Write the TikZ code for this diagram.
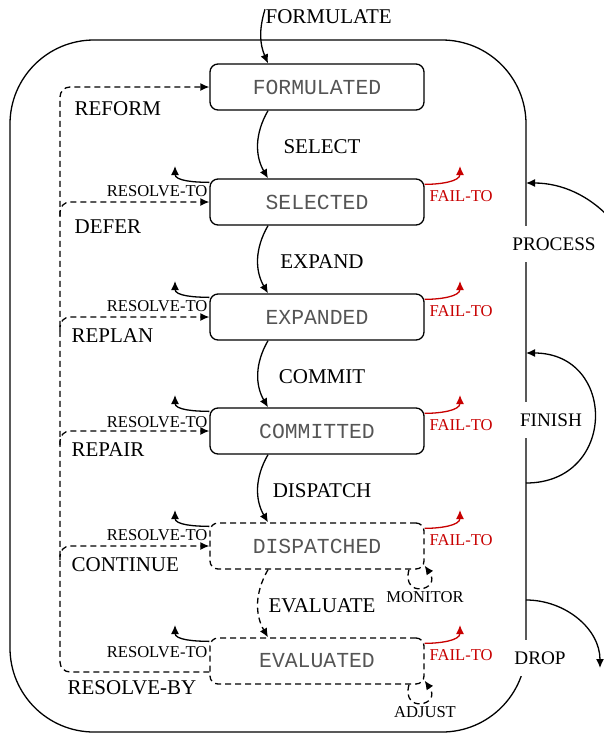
\documentclass[tikz,border=0pt]{standalone}
\usepackage{fontspec}
\setmainfont{Liberation Serif}
\setmonofont{Liberation Mono}
\usetikzlibrary{arrows.meta,calc}
\definecolor{failred}{RGB}{200,0,0}
\definecolor{statetext}{RGB}{85,85,85}
\tikzset{
  state/.style={draw, rounded corners=4pt, minimum width=107pt, minimum height=23pt,
    inner sep=0pt, font=\fontsize{10.7}{12}\selectfont\ttfamily, text=statetext},
  tentative/.style={state, dashy},
  dashy/.style={dash pattern=on 3pt off 2pt},
  event/.style={font=\fontsize{10.5}{12}\selectfont, inner sep=0pt},
  sideevent/.style={font=\fontsize{9.6}{11}\selectfont, fill=white, inner sep=0pt, minimum height=18pt},
  hook/.style={font=\fontsize{8.3}{10}\selectfont, inner sep=0pt},
  fail/.style={failred, text=failred},
}
\begin{document}
\begin{tikzpicture}[x=0.5pt, y=0.5pt, line width=0.65pt, >={Latex[length=4.5pt,width=4pt]}]

\path[use as bounding box, clip] (0,0) rectangle (604,-735);

% Outer frame
\draw[rounded corners=42pt] (10,-40) rectangle (526,-732);

% States
\node[state] (formulated) at (317,-87) {FORMULATED};
\node[state] (selected) at (317,-202) {SELECTED};
\node[state] (expanded) at (317,-317) {EXPANDED};
\node[state] (committed) at (317,-431) {COMMITTED};
\node[tentative] (dispatched) at (317,-546) {DISPATCHED};
\node[tentative] (evaluated) at (317,-661) {EVALUATED};

% Main sequence
\coordinate (lane) at (268,0);
\node[event, anchor=west] (formulate) at (265,-17) {FORMULATE};
\draw[->] (formulate.north west) to[bend right=20] (formulated.north -| lane);
\draw[->] (formulated.south -| lane) to[bend right=30] (selected.north -| lane);
\draw[->] (selected.south -| lane) to[bend right=30] (expanded.north -| lane);
\draw[->] (expanded.south -| lane) to[bend right=30] (committed.north -| lane);
\draw[->] (committed.south -| lane) to[bend right=30] (dispatched.north -| lane);
\draw[->, dashy] (dispatched.south -| lane) to[bend right=30] (evaluated.north -| lane);
\node[event] (select) at (322,-147) {SELECT};
\node[event] (expand) at (322,-262) {EXPAND};
\node[event] (commit) at (322,-377) {COMMIT};
\node[event] (dispatch) at (322,-491) {DISPATCH};
\node[event] (evaluate) at (322,-606) {EVALUATE};

% Resolve-to hooks
\coordinate (selres) at (175,-166);
\coordinate (expres) at (175,-281);
\coordinate (comres) at (175,-395);
\coordinate (disres) at (175,-510);
\coordinate (evares) at (175,-625);
\draw[->] ([yshift=-2pt]selected.north west) to[out=180,in=-90] (selres);
\draw[->] ([yshift=-2pt]expanded.north west) to[out=180,in=-90] (expres);
\draw[->] ([yshift=-2pt]committed.north west) to[out=180,in=-90] (comres);
\draw[->] ([yshift=-2pt]dispatched.north west) to[out=180,in=-90] (disres);
\draw[->] ([yshift=-2pt]evaluated.north west) to[out=180,in=-90] (evares);
\node[hook, anchor=east] (selrestext) at (208,-191) {RESOLVE-TO};
\node[hook, anchor=east] (exprestext) at (208,-306) {RESOLVE-TO};
\node[hook, anchor=east] (comrestext) at (208,-422) {RESOLVE-TO};
\node[hook, anchor=east] (disrestext) at (208,-535) {RESOLVE-TO};
\node[hook, anchor=east] (evarestext) at (208,-652) {RESOLVE-TO};

% Fail-to hooks
\coordinate (selfail) at (460,-166);
\coordinate (expfail) at (460,-281);
\coordinate (comfail) at (460,-395);
\coordinate (disfail) at (460,-510);
\coordinate (evafail) at (460,-625);
\draw[->, fail] ([yshift=-3pt]selected.north east) to[out=0,in=-90] (selfail);
\draw[->, fail] ([yshift=-3pt]expanded.north east) to[out=0,in=-90] (expfail);
\draw[->, fail] ([yshift=-3pt]committed.north east) to[out=0,in=-90] (comfail);
\draw[->, fail] ([yshift=-3pt]dispatched.north east) to[out=0,in=-90] (disfail);
\draw[->, fail] ([yshift=-3pt]evaluated.north east) to[out=0,in=-90] (evafail);
\node[hook, fail, anchor=west] (selfailtext) at (429,-196) {FAIL-TO};
\node[hook, fail, anchor=west] (expfailtext) at (429,-311) {FAIL-TO};
\node[hook, fail, anchor=west] (comfailtext) at (429,-425) {FAIL-TO};
\node[hook, fail, anchor=west] (disfailtext) at (429,-540) {FAIL-TO};
\node[hook, fail, anchor=west] (evafailtext) at (429,-655) {FAIL-TO};

% Resolve-by paths
\coordinate (spine) at (60,0);
\draw[->, dashy, rounded corners=5pt] ([yshift=-5.5pt]evaluated.west)
  -- ($(evaluated.west -| spine)+(0,-11)$) -- (formulated.west -| spine) -- (formulated.west);
\draw[->, dashy, rounded corners=5pt] ($(selected.west -| spine)+(0,-14)$) -- (selected.west -| spine) -- (selected.west);
\draw[->, dashy, rounded corners=5pt] ($(expanded.west -| spine)+(0,-14)$) -- (expanded.west -| spine) -- (expanded.west);
\draw[->, dashy, rounded corners=5pt] ($(committed.west -| spine)+(0,-14)$) -- (committed.west -| spine) -- (committed.west);
\draw[->, dashy, rounded corners=5pt] ($(dispatched.west -| spine)+(0,-14)$) -- (dispatched.west -| spine) -- (dispatched.west);
\node[event, anchor=west] (reform) at (74,-109) {REFORM};
\node[event, anchor=west] (defer) at (74,-227) {DEFER};
\node[event, anchor=west] (replan) at (71,-336) {REPLAN};
\node[event, anchor=west] (repair) at (71,-450) {REPAIR};
\node[event, anchor=west] (continue) at (71,-565) {CONTINUE};
\node[event] (resolveby) at (132,-688) {RESOLVE-BY};

% Monitor and adjust loops
\coordinate (mx) at (409,0);
\draw[->, dashy] (dispatched.south -| mx) to[out=-105,in=-55,looseness=4.8] ([yshift=2pt]dispatched.south east);
\draw[->, dashy] (evaluated.south -| mx) to[out=-105,in=-55,looseness=4.8] ([yshift=2pt]evaluated.south east);
\node[hook] (monitor) at (425,-597) {MONITOR};
\node[hook] (adjust) at (425,-712) {ADJUST};

% Right side transitions
\coordinate (procsrc) at (642,-300);
\coordinate (procin) at (526,-183);
\coordinate (finout) at (526,-483);
\coordinate (finin) at (526,-353);
\coordinate (dropout) at (526,-600);
\coordinate (dropend) at (600,-668);
\draw[->] (procsrc) to[out=90,in=0] (procin);
\draw[->] (finout) to[out=0,in=0,looseness=1.8] (finin);
\draw[->] (dropout) to[out=0,in=90] (dropend);
\node[sideevent] (process) at (554,-244) {PROCESS};
\node[sideevent] (finish) at (551,-420) {FINISH};
\node[sideevent] (drop) at (540,-658) {DROP};

\end{tikzpicture}
\end{document}
